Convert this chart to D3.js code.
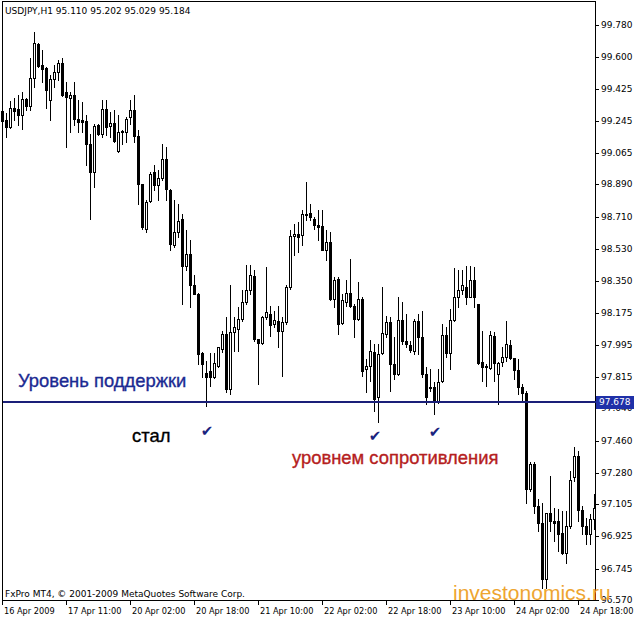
<!DOCTYPE html>
<html><head><meta charset="utf-8">
<script src="https://cdn.jsdelivr.net/npm/d3@7"></script>
<style>body{margin:0;background:#fff}</style>
</head><body><svg id="c" width="634" height="620"></svg>
<script>
// ---- DATA ----
const opens=[99.299,99.249,99.211,99.314,99.310,99.280,99.366,99.329,99.482,99.672,99.556,99.541,99.361,99.478,99.515,99.566,99.407,99.375,99.389,99.258,99.247,99.243,99.113,98.960,99.224,99.174,99.310,
99.215,99.234,99.077,99.183,99.183,99.264,99.305,99.159,98.891,98.643,98.797,98.960,98.885,98.928,99.034,98.861,98.550,98.624,98.699,98.432,98.499,98.326,98.279,97.947,97.836,
97.850,97.813,97.878,97.972,98.056,97.748,98.065,98.083,98.139,98.233,98.298,98.376,98.028,98.003,98.149,98.164,98.111,98.126,98.074,98.121,98.316,98.600,98.615,98.606,98.727,
98.730,98.699,98.661,98.656,98.525,98.568,98.251,98.363,98.115,98.233,98.283,98.214,98.139,98.251,97.860,97.878,97.953,97.701,97.947,98.056,98.121,97.888,97.832,98.134,98.018,
97.994,97.962,98.130,98.041,97.832,97.761,97.761,97.673,97.791,98.052,97.947,98.134,98.264,98.302,98.320,98.264,98.358,98.220,97.897,97.878,97.865,98.046,97.832,97.897,97.929,
97.996,97.921,97.854,97.757,97.724,97.189,97.332,97.095,97.002,96.685,97.053,97.012,97.012,96.946,96.834,96.984,97.254,97.375,97.071,96.984,96.937,97.021];
const highs=[99.355,99.286,99.355,99.370,99.389,99.407,99.370,99.594,99.739,99.677,99.640,99.547,99.500,99.556,99.584,99.594,99.463,99.407,99.463,99.361,99.351,99.280,99.174,99.230,99.230,99.361,99.361,
99.295,99.305,99.277,99.196,99.267,99.361,99.389,99.193,98.894,98.801,98.960,98.997,98.969,99.118,99.100,98.867,98.801,98.783,98.727,98.633,98.578,98.382,98.283,97.953,97.906,
97.947,97.947,97.985,98.074,98.149,98.326,98.149,98.205,98.298,98.438,98.438,98.410,98.028,98.158,98.428,98.214,98.186,98.214,98.149,98.326,98.633,98.671,98.680,98.745,98.904,
98.783,98.708,98.745,98.745,98.633,98.624,98.372,98.372,98.279,98.354,98.475,98.223,98.344,98.261,97.916,98.022,98.000,98.000,98.320,98.158,98.149,98.037,98.264,98.233,98.167,
98.018,98.139,98.167,98.186,97.869,97.860,97.785,97.860,98.112,98.093,98.195,98.425,98.410,98.410,98.432,98.432,98.428,98.223,98.074,97.888,98.074,98.065,97.897,97.981,98.130,
98.022,97.921,97.916,97.776,97.739,97.338,97.338,97.133,97.114,97.058,97.263,97.086,97.077,97.068,97.068,97.291,97.422,97.403,97.096,97.030,97.049,97.161];
const lows=[99.124,99.155,99.206,99.249,99.224,99.198,99.305,99.305,99.435,99.547,99.463,99.314,99.249,99.435,99.472,99.385,99.100,99.183,99.221,99.183,99.183,98.997,98.699,98.876,99.165,99.155,99.165,
99.155,99.128,99.072,99.118,99.128,99.230,99.128,98.783,98.643,98.624,98.792,98.857,98.801,98.913,98.801,98.522,98.540,98.596,98.223,98.410,98.205,98.276,97.888,97.813,97.654,
97.767,97.809,97.869,97.953,97.729,97.720,97.962,97.962,98.130,98.223,98.279,98.018,97.776,98.000,98.139,98.046,98.093,97.981,97.822,98.111,98.307,98.494,98.512,98.550,98.689,
98.689,98.643,98.577,98.522,98.466,98.242,98.205,98.056,98.111,98.214,98.205,98.037,98.134,97.822,97.729,97.795,97.627,97.561,97.944,98.037,97.739,97.804,97.828,98.000,97.981,
97.953,97.944,97.944,97.813,97.664,97.739,97.608,97.668,97.785,97.925,97.860,98.130,98.205,98.279,98.223,98.261,98.205,97.888,97.795,97.767,97.860,97.795,97.664,97.878,97.906,
97.916,97.804,97.720,97.673,97.114,97.179,97.058,96.956,96.639,96.639,96.956,96.900,96.844,96.825,96.779,96.974,97.235,97.012,96.937,96.885,96.885,96.965];
const closes=[99.243,99.208,99.314,99.299,99.280,99.366,99.329,99.482,99.677,99.553,99.534,99.416,99.478,99.515,99.566,99.392,99.379,99.389,99.258,99.239,99.239,99.113,98.960,99.217,99.174,99.310,99.211,
99.234,99.133,99.183,99.189,99.258,99.308,99.159,98.894,98.652,98.792,98.950,98.885,98.928,99.034,98.867,98.559,98.624,98.686,98.432,98.503,98.326,98.279,97.944,97.888,97.817,
97.813,97.891,97.981,98.056,97.748,98.065,98.093,98.139,98.233,98.298,98.382,98.028,98.003,98.149,98.177,98.108,98.134,98.074,98.121,98.316,98.600,98.615,98.596,98.727,98.717,
98.708,98.661,98.652,98.525,98.568,98.251,98.354,98.111,98.242,98.283,98.214,98.139,98.251,97.850,97.878,97.962,97.692,97.944,98.059,98.121,97.888,97.832,98.134,98.018,98.000,
97.966,98.130,98.041,97.832,97.701,97.753,97.673,97.785,98.052,97.947,98.134,98.264,98.302,98.326,98.264,98.358,98.261,97.891,97.873,97.869,98.052,97.891,97.891,97.925,98.000,
97.921,97.854,97.757,97.724,97.189,97.328,97.095,97.002,96.685,97.053,97.012,97.002,96.937,96.834,96.984,97.239,97.375,97.071,96.984,96.937,97.021,97.086];
const priceTicks=["99.780","99.600","99.425","99.245","99.065","98.890","98.710","98.530","98.350","98.175","97.995","97.815","97.640","97.460","97.280","97.105","96.925","96.745","96.570"];
const timeLabels=["16 Apr 2009","17 Apr 11:00","20 Apr 02:00","20 Apr 18:00","21 Apr 10:00","22 Apr 02:00","22 Apr 18:00","23 Apr 10:00","24 Apr 02:00","24 Apr 18:00"];
const timeLabelBars=[0,16,32,48,64,80,96,112,128,144];
const titleText="USDJPY,H1  95.110 95.202 95.029 95.184";
const footerText="FxPro MT4, \u00A9 2001-2009 MetaQuotes Software Corp.";
const watermark="investonomics.ru";
const levelPrice=97.678;
const levelLabel="97.678";
const touchBars=[51,93,108];
const annotations=[
  {text:"Уровень поддержки", color:"#1b2a92"},
  {text:"стал", color:"#000000"},
  {text:"уровнем сопротивления", color:"#b52020"}
];

// ---- DRAW ----
const svg=d3.select("#c");
svg.append("rect").attr("width",634).attr("height",620).attr("fill","#fff");
const L=2,T=1,R=595,B=600;
const x=d3.scaleLinear().domain([0,148]).range([2,594]);
const y=d3.scaleLinear().domain([96.570,99.780]).range([600,25]);
const px=v=>Math.round(x(v)), py=v=>Math.round(y(v));
const n=opens.length;
const data=d3.range(n).map(i=>({i,o:opens[i],h:highs[i],l:lows[i],c:closes[i]}));

const g=svg.append("g").attr("shape-rendering","crispEdges");
g.selectAll("rect.w").data(data).join("rect").attr("class","w")
 .attr("x",d=>px(d.i)).attr("width",1)
 .attr("y",d=>py(d.h)).attr("height",d=>py(d.l)-py(d.h)+1).attr("fill","#000");
g.selectAll("rect.b").data(data).join("rect").attr("class","b")
 .attr("x",d=>px(d.i)-0.5).attr("width",2)
 .attr("y",d=>py(Math.max(d.o,d.c))+0.5)
 .attr("height",d=>Math.max(py(Math.min(d.o,d.c))-py(Math.max(d.o,d.c)),0))
 .attr("fill",d=>d.c>=d.o?"#fff":"#000").attr("stroke","#000").attr("stroke-width",1);

g.append("rect").attr("x",L+0.5).attr("y",T+0.5).attr("width",R-L).attr("height",B-T)
 .attr("fill","none").attr("stroke","#000");

const ax=svg.append("g");
priceTicks.forEach(t=>{
  const yy=py(+t);
  ax.append("line").attr("x1",R).attr("x2",R+4).attr("y1",yy+0.5).attr("y2",yy+0.5)
   .attr("stroke","#000").attr("shape-rendering","crispEdges");
  ax.append("text").attr("x",R+6).attr("y",yy).attr("dy","0.35em")
   .attr("font-family","DejaVu Sans").attr("font-size","9px").attr("fill","#000").text(t);
});
timeLabels.forEach((t,k)=>{
  const xx=px(timeLabelBars[k]);
  ax.append("line").attr("x1",xx+0.5).attr("x2",xx+0.5).attr("y1",B).attr("y2",B+5)
   .attr("stroke","#000").attr("shape-rendering","crispEdges");
  ax.append("text").attr("x",xx+2).attr("y",614)
   .attr("font-family","DejaVu Sans").attr("font-size","8.2px").attr("fill","#000").text(t);
});

svg.append("text").attr("x",5).attr("y",14).attr("font-family","DejaVu Sans").attr("font-size","9px").text(titleText);
svg.append("text").attr("x",5).attr("y",597).attr("font-family","DejaVu Sans").attr("font-size","9px").text(footerText);

svg.append("text").attr("x",453).attr("y",600).attr("font-family","Liberation Sans, Arial").attr("font-size","21px")
 .attr("fill","#eea531").text(watermark);

const ly=py(levelPrice);
svg.append("rect").attr("x",L+1).attr("y",ly-1).attr("width",R-L).attr("height",2).attr("fill","#1a1f78").attr("shape-rendering","crispEdges");
svg.append("rect").attr("x",R+1).attr("y",ly-6).attr("width",38).attr("height",13).attr("fill","#1f30a8").attr("shape-rendering","crispEdges");
svg.append("text").attr("x",R+4).attr("y",ly).attr("dy","0.35em").attr("font-family","DejaVu Sans").attr("font-size","9px").attr("fill","#fff").text(levelLabel);

const ann=[{x:18,y:387},{x:132,y:442},{x:292,y:464}];
annotations.forEach((a,k)=>{
  svg.append("text").attr("x",ann[k].x).attr("y",ann[k].y).attr("font-family","Liberation Sans, Arial")
   .attr("font-size","18.4px").attr("stroke",a.color).attr("stroke-width",0.35).attr("fill",a.color).text(a.text);
});
const chk=[{dy:34},{dy:39},{dy:35}];
touchBars.forEach((b,k)=>{
  svg.append("text").attr("x",px(b)+1).attr("y",ly+chk[k].dy).attr("text-anchor","middle")
   .attr("font-family","DejaVu Sans").attr("font-weight","bold").attr("font-size","15px").attr("fill","#1a237e").text("\u2714");
});
</script></body></html>
